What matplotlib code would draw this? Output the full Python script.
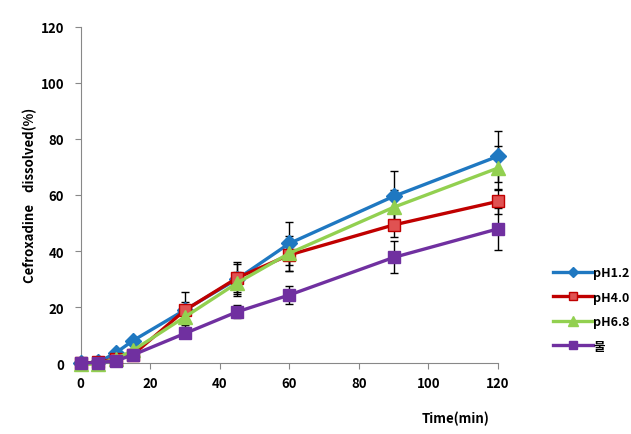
import matplotlib
matplotlib.use("Agg")
import matplotlib.pyplot as plt

plt.rcParams['font.family'] = ['Noto Sans CJK KR', 'DejaVu Sans']

# sampling times (min)
time = [0, 5, 10, 15, 30, 45, 60, 90, 120]

# dissolved (%)
ph12 = [0, 0.3, 3.6, 8.0, 19.0, 30.0, 42.7, 59.5, 73.8]
ph40 = [0, 0.3, 1.5, 3.0, 18.9, 30.4, 38.6, 49.3, 57.7]
ph68 = [-0.5, -0.3, 1.5, 4.5, 16.5, 28.6, 39.2, 55.6, 69.6]
water = [0, 0.2, 0.8, 2.9, 10.6, 18.3, 24.3, 37.7, 47.9]

ph12_err = [0, 0, 0.5, 1, 6.2, 6, 7.8, 9, 9.2]
ph40_err = [0, 0, 0.5, 0.5, 3, 5, 5.6, 4.4, 4.5]
ph68_err = [0, 0, 0.5, 0.5, 3, 4, 6.2, 6.3, 8]
water_err = [0, 0, 0.3, 0.5, 1.5, 2.3, 3.2, 5.7, 7.5]

series = [
    ("pH1.2", ph12, ph12_err, "#1f78c1", "D", "#1f78c1", "#1f78c1", 8),
    ("pH4.0", ph40, ph40_err, "#c00000", "s", "#e05252", "#c00000", 8.5),
    ("pH6.8", ph68, ph68_err, "#92d050", "^", "#92d050", "#92d050", 10),
    ("물", water, water_err, "#7030a0", "s", "#7030a0", "#7030a0", 8.5),
]

fig = plt.figure(figsize=(6.31, 4.35), dpi=100)
ax = fig.add_axes([0.128, 0.163, 0.661, 0.773])

for label, vals, err, col, mk, fc, ec, ms in series:
    ax.errorbar(time, vals, yerr=err, fmt="none", ecolor="black",
                elinewidth=1, capsize=3, capthick=1, zorder=2, clip_on=False)
    ax.plot(time, vals, color=col, lw=2.4, marker=mk, markersize=ms,
            markerfacecolor=fc, markeredgecolor=ec, label=label,
            zorder=3, clip_on=False)

ax.set_xlim(0, 120)
ax.set_ylim(0, 120)
ax.set_xticks(range(0, 121, 20))
ax.set_yticks(range(0, 121, 20))

for s in ["top", "right"]:
    ax.spines[s].set_visible(False)
for s in ["left", "bottom"]:
    ax.spines[s].set_color("#888888")
ax.tick_params(direction="out", length=4, color="#888888", labelsize=9.5)
for t in ax.get_xticklabels() + ax.get_yticklabels():
    t.set_fontweight("bold")
ax.tick_params(axis="y", pad=8)
ax.tick_params(axis="x", pad=5)

fig.text(0.048, 0.55, "Cefroxadine    dissolved(%)", rotation=90,
         ha="center", va="center", fontsize=9.5, fontweight="bold")
fig.text(0.722, 0.038, "Time(min)", ha="center", va="center",
         fontsize=9.5, fontweight="bold")

leg = fig.legend(loc="upper left", bbox_to_anchor=(0.868, 0.397),
                 frameon=False, handlelength=3.2, handletextpad=0.05,
                 labelspacing=0.92, prop={"weight": "bold", "size": 9},
                 markerscale=0.7, borderaxespad=0)

fig.savefig("out.png", dpi=100)
